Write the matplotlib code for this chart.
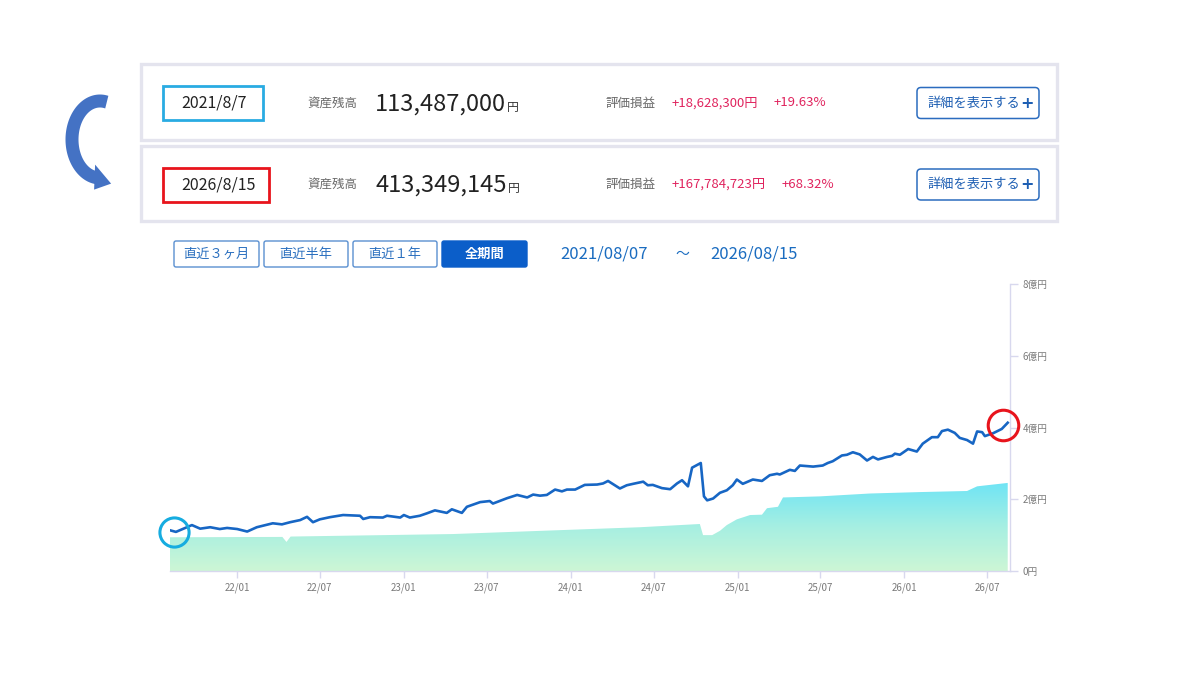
import numpy as np
import pandas as pd
import matplotlib
matplotlib.use("Agg")
import matplotlib.pyplot as plt
import matplotlib.dates as mdates
from matplotlib.patches import Rectangle, FancyBboxPatch, Polygon
from matplotlib.colors import LinearSegmentedColormap
import matplotlib.transforms as mtrans

plt.rcParams['font.family'] = ['Noto Sans CJK JP', 'DejaVu Sans']

# ---------------- data ----------------
# total asset value (億円)
total_dates = [
    "2021-08-07", "2021-08-20", "2021-09-24", "2021-10-12", "2021-11-03", "2021-11-24",
    "2021-12-10", "2022-01-01", "2022-01-23", "2022-02-13", "2022-03-20", "2022-04-09",
    "2022-04-27", "2022-05-19", "2022-06-03", "2022-06-16", "2022-07-01", "2022-07-23",
    "2022-08-21", "2022-09-27", "2022-10-04", "2022-10-19", "2022-11-16", "2022-11-25",
    "2022-12-24", "2023-01-01", "2023-01-14", "2023-02-05", "2023-02-21", "2023-03-10",
    "2023-04-05", "2023-04-16", "2023-05-08", "2023-05-19", "2023-06-17", "2023-07-08",
    "2023-07-15", "2023-08-15", "2023-09-06", "2023-09-28", "2023-10-11", "2023-10-26",
    "2023-11-10", "2023-11-28", "2023-12-13", "2023-12-24", "2024-01-11", "2024-02-01",
    "2024-02-28", "2024-03-12", "2024-03-23", "2024-04-18", "2024-05-03", "2024-05-17",
    "2024-06-08", "2024-06-18", "2024-06-29", "2024-07-19", "2024-08-06", "2024-08-21",
    "2024-09-01", "2024-09-14", "2024-09-23", "2024-10-12", "2024-10-19", "2024-10-26",
    "2024-11-08", "2024-11-23", "2024-12-08", "2024-12-21", "2024-12-30", "2025-01-12",
    "2025-02-03", "2025-02-23", "2025-03-12", "2025-03-28", "2025-04-03", "2025-04-25",
    "2025-05-06", "2025-05-17", "2025-06-15", "2025-07-06", "2025-07-17", "2025-07-28",
    "2025-08-17", "2025-08-28", "2025-09-10", "2025-09-25", "2025-10-11", "2025-10-24",
    "2025-11-04", "2025-11-24", "2025-12-05", "2025-12-11", "2025-12-22", "2026-01-09",
    "2026-01-28", "2026-02-10", "2026-03-02", "2026-03-15", "2026-03-24", "2026-04-06",
    "2026-04-21", "2026-05-02", "2026-05-18", "2026-05-31", "2026-06-09", "2026-06-20",
    "2026-06-26", "2026-07-14", "2026-08-02", "2026-08-15",
]
total_oku = [
    1.135, 1.09, 1.28, 1.18, 1.22, 1.17,
    1.20, 1.17, 1.10, 1.22, 1.33, 1.30,
    1.36, 1.42, 1.51, 1.36, 1.44, 1.50,
    1.56, 1.54, 1.45, 1.50, 1.49, 1.54,
    1.49, 1.56, 1.49, 1.54, 1.61, 1.69,
    1.62, 1.72, 1.62, 1.79, 1.92, 1.95,
    1.88, 2.03, 2.12, 2.05, 2.13, 2.10,
    2.12, 2.27, 2.22, 2.27, 2.27, 2.40,
    2.41, 2.44, 2.51, 2.30, 2.39, 2.43,
    2.49, 2.39, 2.40, 2.31, 2.28, 2.44,
    2.53, 2.36, 2.88, 3.01, 2.08, 1.97,
    2.02, 2.18, 2.25, 2.39, 2.55, 2.43,
    2.55, 2.51, 2.67, 2.71, 2.69, 2.82,
    2.79, 2.94, 2.91, 2.94, 3.01, 3.06,
    3.22, 3.24, 3.31, 3.25, 3.08, 3.18,
    3.11, 3.18, 3.21, 3.27, 3.24, 3.40,
    3.33, 3.55, 3.73, 3.73, 3.90, 3.94,
    3.85, 3.71, 3.65, 3.55, 3.89, 3.87,
    3.76, 3.84, 3.96, 4.133,
]

# invested principal (億円)
principal_dates = [
    "2021-08-07", "2022-04-10", "2022-04-19", "2022-04-28", "2023-04-18", "2024-06-01",
    "2024-10-10", "2024-10-17", "2024-11-06", "2024-11-23", "2024-12-08", "2024-12-30",
    "2025-01-28", "2025-02-23", "2025-03-06", "2025-03-30", "2025-04-10", "2025-06-30",
    "2025-10-17", "2026-02-04", "2026-05-18", "2026-06-09", "2026-08-15",
]
principal_oku = [
    0.94, 0.95, 0.81, 0.96, 1.03, 1.22,
    1.31, 1.00, 1.00, 1.12, 1.28, 1.44,
    1.56, 1.57, 1.75, 1.79, 2.05, 2.08,
    2.16, 2.20, 2.23, 2.36, 2.455,
]

snap_dates = ["2021/8/7", "2026/8/15"]
snap_balance = [113487000, 413349145]
snap_pnl = [18628300, 167784723]
snap_pct = [19.63, 68.32]
snap_colors = ["#29abe2", "#e8141c"]
period_buttons = ["直近３ヶ月", "直近半年", "直近１年", "全期間"]
range_start, range_end = "2021/08/07", "2026/08/15"
y_ticks_oku = [0, 2, 4, 6, 8]
y_tick_labels = ["0円", "2億円", "4億円", "6億円", "8億円"]

# ---------------- figure ----------------
W, H = 1200, 675
fig = plt.figure(figsize=(12, 6.75), dpi=100)
fig.patch.set_facecolor("white")

ov = fig.add_axes([0, 0, 1, 1], zorder=0)
ov.set_xlim(0, W)
ov.set_ylim(H, 0)
ov.axis("off")

renderer = fig.canvas.get_renderer()


def right_edge(t):
    bb = t.get_window_extent(renderer)
    return ov.transData.inverted().transform((bb.x1, bb.y0))[0]


# curved arrow (elliptical band + head)
cx, cy, rx, ry, bw = 100, 139.5, 28, 38.5, 13
th = np.radians(np.linspace(76, 262, 80))
outer = np.column_stack([cx + (rx + bw / 2) * np.cos(th), cy - (ry + bw / 2) * np.sin(th)])
inner = np.column_stack([cx + (rx - bw / 2) * np.cos(th), cy - (ry - bw / 2) * np.sin(th)])
ex, ey = cx + rx * np.cos(th[-1]), cy - ry * np.sin(th[-1])
head = np.array([[ex - 1, ey - 13], [ex + 15, ey + 6], [ex - 2, ey + 12]])
band = np.vstack([outer, inner[::-1]])
ov.add_patch(Polygon(band, closed=True, facecolor="#4472c4", edgecolor="none"))
ov.add_patch(Polygon(head, closed=True, facecolor="#4472c4", edgecolor="none"))

# snapshot panels
panel_rows = [(64, 140), (146, 221)]
for i, (y0, y1) in enumerate(panel_rows):
    ov.add_patch(Rectangle((141, y0), 1057 - 141, y1 - y0, facecolor="white",
                           edgecolor="#e4e4ee", lw=2.4))
    yc = (y0 + y1) / 2 + 1
    # date box
    bw_ = 100 if i == 0 else 106
    ov.add_patch(Rectangle((163, yc - 17), bw_, 34, facecolor="none",
                           edgecolor=snap_colors[i], lw=2.0))
    ov.text(181, yc, snap_dates[i], fontsize=11.5, color="#222222", va="center", ha="left")
    ov.text(307, yc, "資産残高", fontsize=9, color="#6a6a6a", va="center", ha="left")
    t = ov.text(375, yc + 7.5, f"{snap_balance[i]:,}", fontsize=17, color="#222222",
                va="baseline", ha="left")
    ov.text(right_edge(t) + 1, yc + 7.5, "円", fontsize=8.5, color="#333333",
            va="baseline", ha="left")
    ov.text(606, yc, "評価損益", fontsize=9, color="#6a6a6a", va="center", ha="left")
    t2 = ov.text(672, yc, f"+{snap_pnl[i]:,}円", fontsize=9.5, color="#e0245e",
                 va="center", ha="left")
    ov.text(right_edge(t2) + 15, yc, f"+{snap_pct[i]:.2f}%", fontsize=9.5,
            color="#e0245e", va="center", ha="left")
    ov.add_patch(FancyBboxPatch((917, yc - 15.5), 122, 31,
                                boxstyle="round,pad=0,rounding_size=4",
                                facecolor="white", edgecolor="#2b6cbf", lw=1.1))
    tb = ov.text(927, yc, "詳細を表示する", fontsize=9.5, color="#1e5fb3",
                 va="center", ha="left")
    ov.text(right_edge(tb) + 0.5, yc, "+", fontsize=11.5, color="#1e5fb3",
            fontweight="bold", va="center", ha="left", family="DejaVu Sans")

# period buttons
btn_x = [(174, 259), (264, 348), (353, 437), (442, 527)]
for j, (bx0, bx1) in enumerate(btn_x):
    active = j == len(btn_x) - 1
    ov.add_patch(FancyBboxPatch((bx0, 241), bx1 - bx0, 26,
                                boxstyle="round,pad=0,rounding_size=2",
                                facecolor="#0b5ec9" if active else "white",
                                edgecolor="#0b5ec9" if active else "#5a8fd0", lw=1.0))
    ov.text((bx0 + bx1) / 2, 254, period_buttons[j], fontsize=9.5,
            color="white" if active else "#2a6fbf",
            fontweight="bold" if active else "normal", va="center", ha="center")
ov.text(560, 254, range_start, fontsize=12, color="#1a6cc0", va="center", ha="left")
ov.text(682, 254, "～", fontsize=10, color="#1a6cc0", va="center", ha="center")
ov.text(710, 254, range_end, fontsize=12, color="#1a6cc0", va="center", ha="left")

# ---------------- chart ----------------
ax = fig.add_axes([170 / W, (H - 571) / H, 840 / W, 287 / H], zorder=2)
ax.set_facecolor("none")

td = pd.to_datetime(total_dates)
pdts = pd.to_datetime(principal_dates)
tx = mdates.date2num(td)
px = mdates.date2num(pdts)
x0 = mdates.date2num(pd.Timestamp("2021-08-07"))
x1 = mdates.date2num(pd.Timestamp("2026-08-20"))

poly = ax.fill_between(px, 0, principal_oku, facecolor="none", edgecolor="none")
cmap = LinearSegmentedColormap.from_list("g", ["#cdf6d5", "#a6efe2", "#6ee4f5"])
grad = np.linspace(0, 1, 256).reshape(-1, 1)
im = ax.imshow(grad, aspect="auto", cmap=cmap, origin="lower",
               extent=[px[0], px[-1], 0, max(principal_oku)], zorder=1,
               interpolation="bilinear")
im.set_clip_path(poly.get_paths()[0], transform=ax.transData)

ax.plot(tx, total_oku, color="#1766c4", lw=1.9, zorder=3, solid_joinstyle="round")

# highlight circles at first and last points
off_l = mtrans.offset_copy(ax.transData, fig=fig, x=3.5, y=-1.5, units="dots")
off_r = mtrans.offset_copy(ax.transData, fig=fig, x=-5, y=-2, units="dots")
ax.plot([tx[0]], [total_oku[0]], marker="o", ms=21, mfc="none", mec="#16ace0",
        mew=2.2, transform=off_l, clip_on=False, zorder=5)
ax.plot([tx[-1]], [total_oku[-1]], marker="o", ms=22, mfc="none", mec="#e8141c",
        mew=2.2, transform=off_r, clip_on=False, zorder=5)

ax.set_xlim(x0, x1)
ax.set_ylim(0, 8)
ax.xaxis.set_major_locator(mdates.MonthLocator(bymonth=[1, 7]))
ax.xaxis.set_major_formatter(mdates.DateFormatter("%y/%m"))
ax.yaxis.tick_right()
ax.set_yticks(y_ticks_oku)
ax.set_yticklabels(y_tick_labels)
for s in ["left", "top"]:
    ax.spines[s].set_visible(False)
for s in ["right", "bottom"]:
    ax.spines[s].set_color("#d8d8ee")
    ax.spines[s].set_linewidth(1.0)
ax.tick_params(axis="x", colors="#d8d8ee", labelcolor="#7a7a7a", labelsize=7,
               length=5, width=1, pad=3)
ax.tick_params(axis="y", colors="#d8d8ee", labelcolor="#7a7a7a", labelsize=7,
               length=6, width=1, pad=3)

fig.savefig("out.png", dpi=100, facecolor="white")
